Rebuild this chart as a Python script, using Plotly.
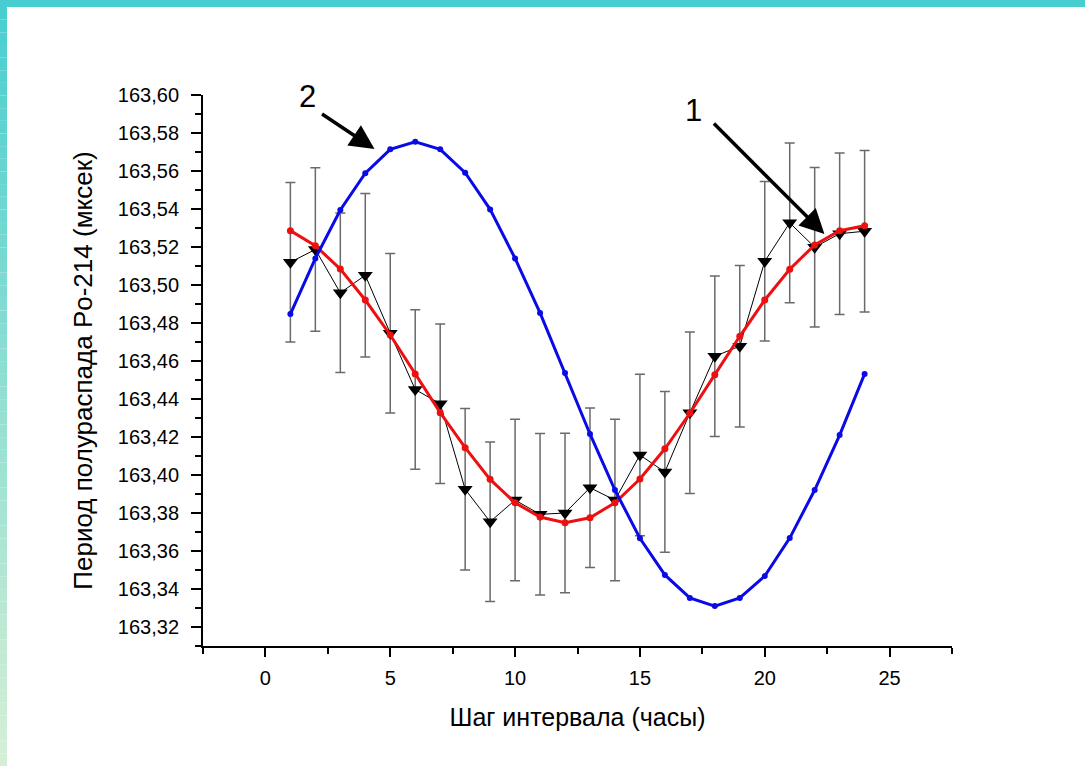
import plotly.graph_objects as go

# ---- data ----
hours = list(range(1, 25))

curve2_blue = [163.4847, 163.5140, 163.5395, 163.5588, 163.5714, 163.5754, 163.5714, 163.5591,
               163.5398, 163.5140, 163.4853, 163.4537, 163.4216, 163.3921, 163.3667, 163.3474,
               163.3353, 163.3310, 163.3353, 163.3468, 163.3668, 163.3921, 163.4210, 163.4532]

curve1_red = [163.5286, 163.5207, 163.5084, 163.4921, 163.4737, 163.4532, 163.4328, 163.4144,
              163.3977, 163.3854, 163.3779, 163.3749, 163.3775, 163.3854, 163.3979, 163.4138,
              163.4325, 163.4528, 163.4730, 163.4921, 163.5083, 163.5211, 163.5286, 163.5312]

measured = [163.5120, 163.5187, 163.4959, 163.5051, 163.4746, 163.4450, 163.4375, 163.3925,
            163.3754, 163.3868, 163.3793, 163.3800, 163.3933, 163.3868, 163.4105, 163.4016,
            163.4327, 163.4625, 163.4678, 163.5125, 163.5327, 163.5199, 163.5270, 163.5283]

measured_err = [0.0420, 0.0430, 0.0420, 0.0430, 0.0420, 0.0420, 0.0420, 0.0425,
                0.0420, 0.0425, 0.0425, 0.0420, 0.0420, 0.0425, 0.0425, 0.0423,
                0.0425, 0.0423, 0.0425, 0.0420, 0.0420, 0.0420, 0.0425, 0.0425]

y_ticks = [163.32, 163.34, 163.36, 163.38, 163.40, 163.42, 163.44, 163.46,
           163.48, 163.50, 163.52, 163.54, 163.56, 163.58, 163.60]
y_tick_labels = ["163,32", "163,34", "163,36", "163,38", "163,40", "163,42", "163,44", "163,46",
                 "163,48", "163,50", "163,52", "163,54", "163,56", "163,58", "163,60"]
x_ticks = [0, 5, 10, 15, 20, 25]
x_tick_labels = ["0", "5", "10", "15", "20", "25"]

x_title = "Шаг интервала (часы)"
y_title = "Период полураспада Po-214 (мксек)"

# ---- figure ----
W, H = 1085, 766
L, R, T, B = 203, 133, 95, 120
PW, PH = W - L - R, H - T - B

def px_x(p):
    return (p - L) / PW

def px_y(p):
    return (H - B - p) / PH

fig = go.Figure()

fig.add_trace(go.Scatter(
    x=hours, y=measured,
    mode="lines+markers",
    line=dict(color="black", width=1),
    marker=dict(symbol="triangle-down", size=13, color="black"),
    error_y=dict(type="data", array=measured_err, visible=True,
                 color="#6a6a6a", thickness=1.5, width=5),
    hoverinfo="skip", showlegend=False,
))

fig.add_trace(go.Scatter(
    x=hours, y=curve1_red,
    mode="lines+markers",
    line=dict(color="#ee1010", width=3),
    marker=dict(symbol="circle", size=7, color="#ee1010"),
    hoverinfo="skip", showlegend=False,
))

fig.add_trace(go.Scatter(
    x=hours, y=curve2_blue,
    mode="lines+markers",
    line=dict(color="#0a0ae6", width=3),
    marker=dict(symbol="circle", size=6, color="#0a0ae6"),
    hoverinfo="skip", showlegend=False,
))

# decorative frame: top bar and left gradient bar
shapes = []
shapes.append(dict(type="rect", xref="paper", yref="paper",
                   x0=px_x(0), x1=px_x(W), y0=px_y(7), y1=px_y(0),
                   fillcolor="#48ced0", line=dict(width=0), layer="above"))
c_top = (0x48, 0xce, 0xd0)
c_bot = (0xd6, 0xef, 0xd4)
n = 60
for i in range(n):
    t = (i + 0.5) / n
    col = tuple(round(c_top[k] + (c_bot[k] - c_top[k]) * t) for k in range(3))
    shapes.append(dict(type="rect", xref="paper", yref="paper",
                       x0=px_x(0), x1=px_x(7),
                       y0=px_y(7 + (H - 7) * (i + 1) / n), y1=px_y(7 + (H - 7) * i / n),
                       fillcolor="rgb(%d,%d,%d)" % col, line=dict(width=0), layer="above"))

annotations = [
    dict(x=4.37, y=163.5716, xref="x", yref="y", ax=-54, ay=-36, axref="pixel", ayref="pixel",
         text="", showarrow=True, arrowhead=2, arrowsize=1.4, arrowwidth=3.5, arrowcolor="black"),
    dict(x=22.39, y=163.5268, xref="x", yref="y", ax=-112, ay=-112, axref="pixel", ayref="pixel",
         text="", showarrow=True, arrowhead=2, arrowsize=1.4, arrowwidth=3.5, arrowcolor="black"),
    dict(x=px_x(307), y=px_y(96), xref="paper", yref="paper", text="2", showarrow=False,
         xanchor="center", yanchor="middle",
         font=dict(family="Liberation Sans, Arial, sans-serif", size=31, color="black")),
    dict(x=px_x(693), y=px_y(110), xref="paper", yref="paper", text="1", showarrow=False,
         xanchor="center", yanchor="middle",
         font=dict(family="Liberation Sans, Arial, sans-serif", size=31, color="black")),
]

fig.update_layout(
    width=W, height=H,
    margin=dict(l=L, r=R, t=T, b=B, autoexpand=False),
    paper_bgcolor="white", plot_bgcolor="white",
    separators=", ",
    showlegend=False,
    hovermode=False,
    shapes=shapes,
    annotations=annotations,
    font=dict(family="Liberation Sans, Arial, sans-serif", color="black"),
)

fig.update_xaxes(
    range=[-2.5, 27.5],
    tickmode="array", tickvals=x_ticks, ticktext=x_tick_labels,
    ticks="outside", ticklen=9, tickwidth=1.5, tickcolor="black",
    minor=dict(tickmode="array", tickvals=[-2.5, 2.5, 7.5, 12.5, 17.5, 22.5, 27.5],
               ticks="outside", ticklen=6, tickwidth=1.5, tickcolor="black"),
    showline=True, linecolor="black", linewidth=2,
    showgrid=False, zeroline=False,
    ticklabelstandoff=4,
    tickfont=dict(family="Liberation Sans Narrow, Arial Narrow, Liberation Sans, sans-serif", size=20),
    title=dict(text=x_title, standoff=20,
               font=dict(family="Liberation Sans Narrow, Arial Narrow, Liberation Sans, sans-serif", size=25)),
)

fig.update_yaxes(
    range=[163.31, 163.60],
    tickmode="array", tickvals=y_ticks, ticktext=y_tick_labels,
    ticks="outside", ticklen=10, tickwidth=1.5, tickcolor="black",
    minor=dict(dtick=0.01, tick0=163.31, ticks="outside", ticklen=6, tickwidth=1.5, tickcolor="black"),
    showline=True, linecolor="black", linewidth=2,
    showgrid=False, zeroline=False,
    ticklabelstandoff=8,
    tickfont=dict(family="Liberation Sans, Arial, sans-serif", size=20),
    title=dict(text=y_title, standoff=18,
               font=dict(family="Liberation Sans, Arial, sans-serif", size=26)),
)

fig.write_html("out.html",
               config={"displayModeBar": False},
               post_script="document.body.style.margin='0';document.body.style.padding='0';")
